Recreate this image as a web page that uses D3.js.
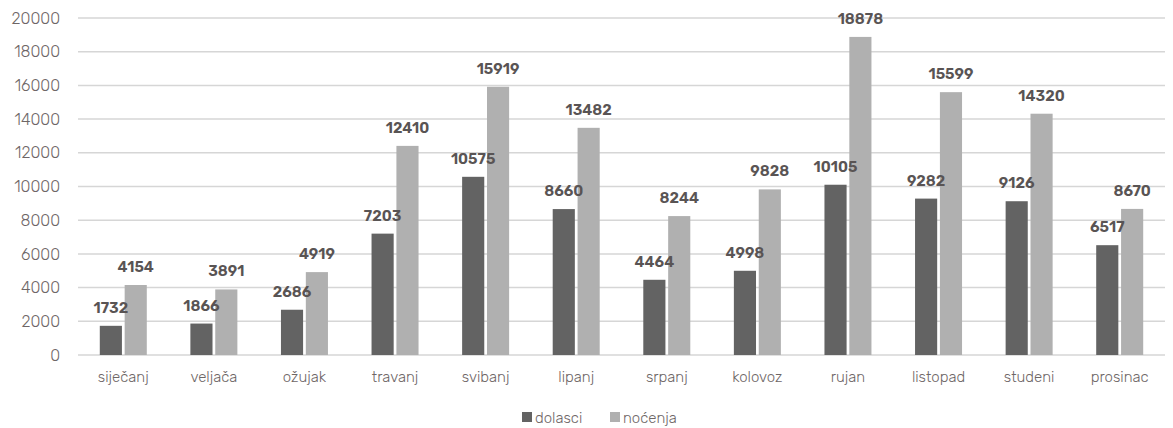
<!DOCTYPE html>
<html><head><meta charset="utf-8">
<script src="https://cdn.jsdelivr.net/npm/d3@7"></script>
<style>body{margin:0;background:#fff;}svg{display:block;font-family:Rubik,Lato,"Open Sans",sans-serif;}</style>
</head><body><svg id="c" width="1173" height="428"></svg>
<script>
const categories = ["siječanj","veljača","ožujak","travanj","svibanj","lipanj","srpanj","kolovoz","rujan","listopad","studeni","prosinac"];
const dolasci = [1732,1866,2686,7203,10575,8660,4464,4998,10105,9282,9126,6517];
const nocenja = [4154,3891,4919,12410,15919,13482,8244,9828,18878,15599,14320,8670];
const seriesNames = ["dolasci","noćenja"];
const yTicks = [0,2000,4000,6000,8000,10000,12000,14000,16000,18000,20000];
const colors = ["#636363","#b0b0b0"];

(function(){
const svg = d3.select("#c");
const mLeft = 78, mRight = 1165, mTop = 18, mBottom = 355;
const x = d3.scaleBand().domain(categories).range([mLeft, mRight]);
const y = d3.scaleLinear().domain([0,20000]).range([mBottom, mTop]);
const sub = d3.scaleBand().domain(seriesNames).range([0, 47]).paddingInner(0.11);

svg.append("g").selectAll("line").data(yTicks).join("line")
  .attr("x1", mLeft).attr("x2", mRight)
  .attr("y1", d=>y(d)).attr("y2", d=>y(d))
  .attr("stroke", "#d6d6d6").attr("stroke-width", 1.5);

const yAxis = d3.axisLeft(y).tickValues(yTicks).tickFormat(d3.format("d")).tickSize(0).tickPadding(0);
const ya = svg.append("g").attr("transform", `translate(${mLeft-18},0)`).call(yAxis);
ya.select(".domain").remove();
ya.selectAll("text").attr("font-size", 16).attr("font-weight", 300).attr("fill", "#6e6666").attr("font-family","Rubik,Lato,sans-serif");

const xAxis = d3.axisBottom(x).tickSize(0).tickPadding(0);
const xa = svg.append("g").attr("transform", `translate(0,${mBottom+16})`).call(xAxis);
xa.select(".domain").remove();
xa.selectAll("text").attr("font-size", 15).attr("font-weight", 300).attr("fill", "#6e6666").attr("font-family","Rubik,Lato,sans-serif");

const series = [dolasci, nocenja];
const off = (x.bandwidth() - 47) / 2;
const barG = svg.append("g"), labG = svg.append("g");
series.forEach((vals, si) => {
  barG.append("g").selectAll("rect").data(vals).join("rect")
    .attr("x", (d,i)=> x(categories[i]) + off + sub(seriesNames[si]))
    .attr("width", sub.bandwidth())
    .attr("y", d=>y(d)).attr("height", d=>mBottom - y(d))
    .attr("fill", colors[si]);
});
series.forEach((vals, si) => {
  labG.append("g").selectAll("text").data(vals).join("text")
    .attr("x", (d,i)=> x(categories[i]) + off + sub(seriesNames[si]) + sub.bandwidth()/2)
    .attr("y", d=>y(d) - 13)
    .attr("text-anchor","middle")
    .attr("font-size", 15).attr("font-weight", 600).attr("fill","#595454")
    .text(d=>d);
});

const lg = svg.append("g").attr("transform","translate(522,423)");
const items = [{n:"dolasci",c:colors[0],x:0},{n:"noćenja",c:colors[1],x:88}];
items.forEach(it=>{
  lg.append("rect").attr("x",it.x).attr("y",-11).attr("width",10).attr("height",10).attr("fill",it.c);
  lg.append("text").attr("x",it.x+13).attr("y",0).attr("font-size",15).attr("font-weight",300).attr("fill","#6e6666").text(it.n);
});
})();
</script></body></html>
